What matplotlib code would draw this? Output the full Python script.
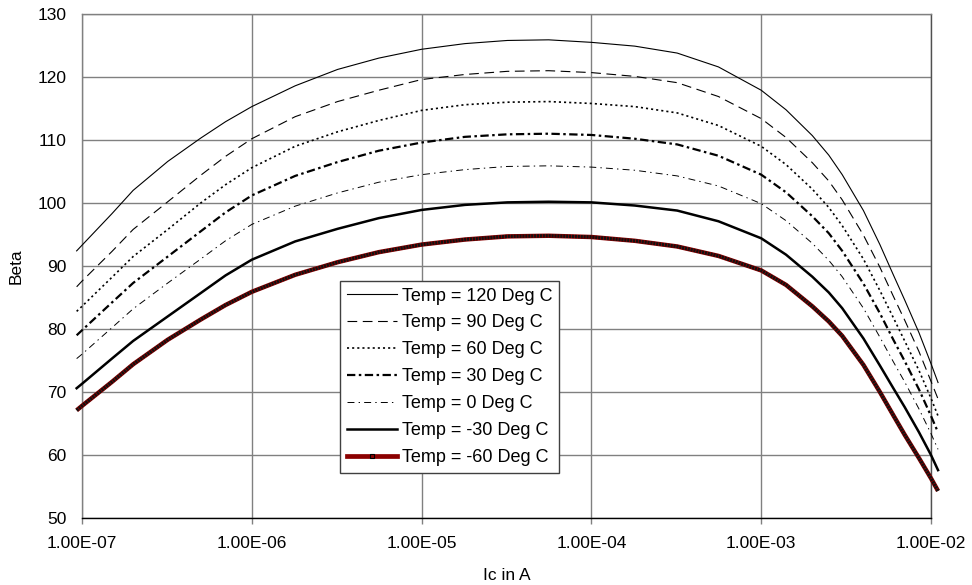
import matplotlib
matplotlib.use("Agg")
import matplotlib.pyplot as plt
import matplotlib.ticker as ticker
from matplotlib.lines import Line2D

plt.rcParams["font.family"] = ["Liberation Sans", "DejaVu Sans"]
plt.rcParams["font.size"] = 12
plt.rcParams["lines.scale_dashes"] = False

# collector current (A)
ic = [9.3e-8, 1e-7, 1.5e-7, 2e-7, 3.2e-7, 5e-7, 7e-7, 1e-6, 1.8e-6, 3.2e-6,
      5.6e-6, 1e-5, 1.8e-5, 3.2e-5, 5.6e-5, 1e-4, 1.8e-4, 3.2e-4, 5.6e-4, 1e-3,
      1.4e-3, 2e-3, 2.5e-3, 3e-3, 4e-3, 5e-3, 6e-3, 7e-3, 8.5e-3, 1e-2, 1.1e-2]

# current gain at each temperature
beta_120 = [92.4, 93.3, 98.3, 102.0, 106.6, 110.3, 112.9, 115.3, 118.6, 121.2,
            123.0, 124.4, 125.3, 125.8, 125.9, 125.5, 124.9, 123.8, 121.6, 117.9,
            114.8, 110.7, 107.6, 104.5, 98.8, 93.4, 88.6, 84.6, 79.4, 74.5, 71.5]
beta_90 = [86.7, 87.6, 92.3, 95.8, 100.2, 104.4, 107.4, 110.2, 113.7, 116.1,
           117.9, 119.6, 120.4, 120.9, 121.0, 120.7, 120.1, 119.1, 116.9, 113.4,
           110.4, 106.4, 103.5, 100.5, 94.9, 89.8, 85.2, 81.4, 76.4, 71.7, 68.9]
beta_60 = [82.8, 83.6, 88.2, 91.5, 95.8, 100.0, 102.9, 105.6, 109.0, 111.3,
           113.1, 114.7, 115.6, 116.0, 116.1, 115.8, 115.3, 114.3, 112.3, 109.0,
           106.1, 102.2, 99.3, 96.4, 91.1, 86.1, 81.8, 78.1, 73.4, 69.0, 66.2]
beta_30 = [79.0, 79.8, 84.2, 87.3, 91.5, 95.5, 98.5, 101.2, 104.3, 106.5,
           108.3, 109.6, 110.5, 110.9, 111.0, 110.8, 110.2, 109.3, 107.5, 104.5,
           101.7, 97.9, 95.2, 92.4, 87.2, 82.5, 78.3, 74.9, 70.4, 66.2, 63.6]
beta_0 = [75.3, 76.0, 80.2, 83.2, 87.3, 91.1, 94.0, 96.6, 99.5, 101.6,
          103.3, 104.5, 105.3, 105.8, 105.9, 105.7, 105.2, 104.3, 102.7, 99.9,
          97.2, 93.6, 90.9, 88.3, 83.3, 78.7, 74.8, 71.6, 67.3, 63.4, 60.9]
beta_m30 = [70.6, 71.3, 75.3, 78.1, 82.0, 85.7, 88.5, 91.0, 93.9, 95.9,
            97.6, 98.9, 99.7, 100.1, 100.2, 100.1, 99.6, 98.8, 97.1, 94.4,
            91.8, 88.3, 85.8, 83.3, 78.5, 74.2, 70.6, 67.6, 63.6, 60.0, 57.6]
beta_m60 = [67.1, 67.8, 71.6, 74.4, 78.3, 81.5, 83.8, 85.9, 88.6, 90.6,
            92.2, 93.4, 94.2, 94.7, 94.8, 94.6, 94.0, 93.1, 91.6, 89.3,
            87.0, 83.6, 81.2, 78.9, 74.3, 70.0, 66.3, 63.2, 59.5, 56.3, 54.3]

labels = ["Temp = 120 Deg C", "Temp = 90 Deg C", "Temp = 60 Deg C",
          "Temp = 30 Deg C", "Temp = 0 Deg C", "Temp = -30 Deg C",
          "Temp = -60 Deg C"]

fig = plt.figure(figsize=(9.72, 5.85), dpi=100)
ax = fig.add_axes([82 / 972, 1 - 518 / 585, (931 - 82) / 972, (518 - 14) / 585])

styles = [
    dict(ls="-", lw=0.8),
    dict(ls=(0, (7, 4)), lw=0.8),
    dict(ls=(0, (1.5, 2.2)), lw=1.2),
    dict(ls=(0, (6, 2.5, 1.8, 2.5)), lw=1.6),
    dict(ls=(0, (5, 3, 1, 3)), lw=0.7),
    dict(ls="-", lw=1.8),
]
series = [beta_120, beta_90, beta_60, beta_30, beta_0, beta_m30]
handles = []
for vals, st in zip(series, styles):
    h, = ax.plot(ic, vals, color="black", clip_on=False, zorder=3, **st)
    handles.append(h)

# -60 curve: dark red line covered by dense black markers
ax.plot(ic, beta_m60, color="#8b0000", lw=3.2, clip_on=False, zorder=3,
        solid_capstyle="butt")
ax.plot(ic, beta_m60, color="#111111", lw=2.4, ls=(0, (1.5, 0.6)),
        clip_on=False, zorder=4)
handles.append(Line2D([], [], color="#8b0000", lw=3.4, marker="s",
                      ms=3.5, mfc="#8b0000", mec="black", mew=0.8))

ax.set_xscale("log")
ax.set_xlim(1e-7, 1e-2)
ax.set_ylim(50, 130)
ax.set_yticks(range(50, 131, 10))
ax.set_xticks([1e-7, 1e-6, 1e-5, 1e-4, 1e-3, 1e-2])
ax.xaxis.set_minor_locator(ticker.NullLocator())
ax.xaxis.set_major_formatter(ticker.FuncFormatter(lambda v, p: f"{v:.2E}"))

ax.grid(True, color="#808080", lw=1.0)
ax.set_axisbelow(True)
ax.tick_params(axis="y", length=0, pad=11, labelsize=12.5)
ax.tick_params(axis="x", length=4, width=1, color="#808080", pad=9, labelsize=12.5)

for side in ["left", "top", "right"]:
    ax.spines[side].set_color("#808080")
    ax.spines[side].set_linewidth(1.0)
ax.spines["right"].set_color("#505050")
ax.spines["bottom"].set_color("black")
ax.spines["bottom"].set_linewidth(1.0)

ax.set_xlabel("Ic in A", fontsize=12.5, labelpad=12)
ax.set_ylabel("Beta", fontsize=12.5, labelpad=10)

leg = ax.legend(handles, labels, loc="upper left",
                bbox_to_anchor=(340 / 972, 1 - 281 / 585),
                bbox_transform=fig.transFigure, fontsize=13, frameon=True,
                fancybox=False, framealpha=1, edgecolor="#404040",
                handlelength=2.77, handletextpad=0.28, labelspacing=0.55,
                borderpad=0.36, borderaxespad=0)
leg.get_frame().set_linewidth(1.0)
leg.set_zorder(5)

fig.savefig("out.png", dpi=100)
